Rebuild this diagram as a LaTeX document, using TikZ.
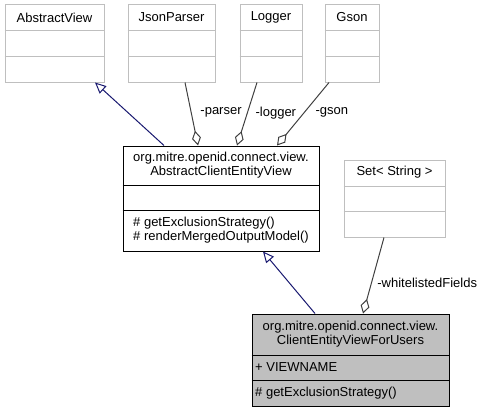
\documentclass[tikz,border=0pt]{standalone}
\usepackage{fontspec}
\setmainfont{Liberation Sans}
\usepackage{tikz}
\usetikzlibrary{arrows.meta,positioning}
\definecolor{boxgray}{HTML}{BFBFBF}
\definecolor{linkgray}{HTML}{404040}
\definecolor{inhblue}{HTML}{191970}

\begin{document}
\begin{tikzpicture}[
			x=1pt, y=-1pt,
			every node/.style={font=\fontsize{13}{14}\selectfont, inner sep=0pt},
			extclass/.style={draw=boxgray, line width=1pt, rectangle},
			ownclass/.style={draw=black, line width=1pt, rectangle},
			curclass/.style={draw=black, fill=boxgray, line width=1pt, rectangle},
			inherit/.style={draw=inhblue, line width=1pt, {Triangle[open,length=11pt,width=10pt]}-},
			aggr/.style={draw=linkgray, line width=1pt, {Diamond[open,length=15pt,width=9pt]}-},
			lbl/.style={anchor=west}
			]

				\useasboundingbox (0,0) rectangle (484,412);

				\node[extclass, minimum width=99pt, minimum height=77pt] (absview) at (54.5,43.5) {};
				\node[extclass, minimum width=87pt, minimum height=77pt] (jsonp) at (171.5,43.5) {};
				\node[extclass, minimum width=62pt, minimum height=77pt] (logger) at (271,43.5) {};
				\node[extclass, minimum width=54pt, minimum height=77pt] (gson) at (352,43.5) {};
				\foreach \c in {absview,jsonp,logger,gson} {
					\draw[boxgray, line width=1pt] ([yshift=-26pt]\c.north west) -- ([yshift=-26pt]\c.north east);
					\draw[boxgray, line width=1pt] ([yshift=-52pt]\c.north west) -- ([yshift=-52pt]\c.north east);
				}
				\node (absviewname) at ([yshift=-13pt]absview.north) {AbstractView};
				\node (jsonpname) at ([yshift=-13pt]jsonp.north) {JsonParser};
				\node (loggername) at ([yshift=-13pt]logger.north) {Logger};
				\node (gsonname) at ([yshift=-13pt]gson.north) {Gson};

				\node[ownclass, minimum width=196pt, minimum height=105pt] (midbox) at (221,198.5) {};
				\draw[line width=1pt] ([yshift=-40pt]midbox.north west) -- ([yshift=-40pt]midbox.north east);
				\draw[line width=1pt] ([yshift=-65pt]midbox.north west) -- ([yshift=-65pt]midbox.north east);
				\node[align=center] (midname) at ([yshift=-20pt]midbox.north) {org.mitre.openid.connect.view.\\AbstractClientEntityView};
				\node[align=left, anchor=west] (midops) at (133,229.7) {\# getExclusionStrategy()\\\# renderMergedOutputModel()};

				\node[extclass, minimum width=101pt, minimum height=77pt] (strset) at (394.5,198.5) {};
				\draw[boxgray, line width=1pt] ([yshift=-27pt]strset.north west) -- ([yshift=-27pt]strset.north east);
				\draw[boxgray, line width=1pt] ([yshift=-52pt]strset.north west) -- ([yshift=-52pt]strset.north east);
				\node (strsetname) at ([yshift=-13pt]strset.north) {Set< String >};

				\node[curclass, minimum width=197pt, minimum height=92pt] (usrbox) at (350.5,360) {};
				\draw[line width=1pt] ([yshift=-42pt]usrbox.north west) -- ([yshift=-42pt]usrbox.north east);
				\draw[line width=1pt] ([yshift=-67pt]usrbox.north west) -- ([yshift=-67pt]usrbox.north east);
				\node[align=center] (usrname) at ([yshift=-20.7pt]usrbox.north) {org.mitre.openid.connect.view.\\ClientEntityViewForUsers};
				\node[anchor=west] (usrattr) at (255,366.7) {+ VIEWNAME};
				\node[anchor=west] (usrops) at (255,393) {\# getExclusionStrategy()};

				\draw[inherit] ([xshift=40.5pt]absview.south) -- ([xshift=-57pt]midbox.north);
				\draw[inherit] ([xshift=42pt]midbox.south) -- ([xshift=-35.5pt]usrbox.north);

				\draw[aggr] ([xshift=-23pt]midbox.north) -- node[lbl, pos=0.52, xshift=8.7pt] (parserlbl) {-parser} ([xshift=13.5pt]jsonp.south);
				\draw[aggr] ([xshift=16pt]midbox.north) -- node[lbl, pos=0.52, xshift=7.7pt] (loggerlbl) {-logger} ([xshift=-14pt]logger.south);
				\draw[aggr] ([xshift=56pt]midbox.north) -- node[lbl, pos=0.52, xshift=11pt] (gsonlbl) {-gson} ([xshift=-23pt]gson.south);
				\draw[aggr] ([xshift=12.5pt]usrbox.north) -- node[lbl, pos=0.4, xshift=5.5pt] (fieldslbl) {-whitelistedFields} ([xshift=-10.5pt]strset.south);

			\end{tikzpicture}
\end{document}
